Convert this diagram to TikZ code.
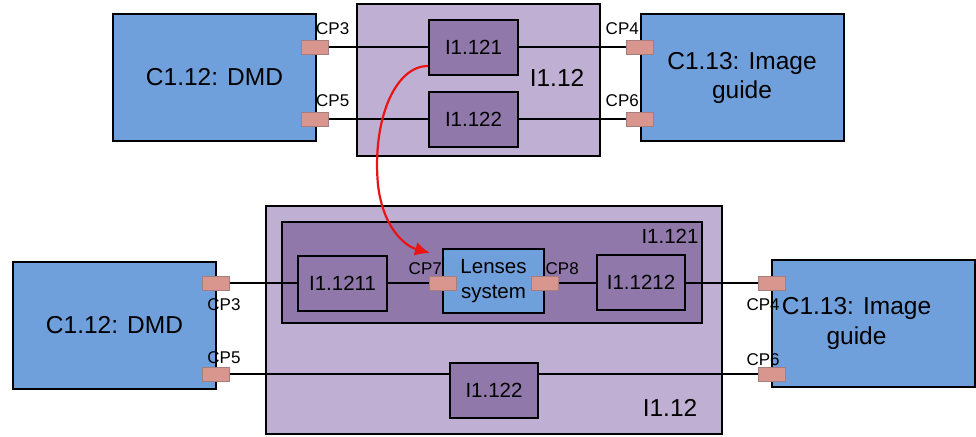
\documentclass[tikz,border=0pt]{standalone}
\usepackage{fontspec}
\setmainfont{Liberation Sans}
\usetikzlibrary{arrows.meta,positioning}
\definecolor{compblue}{RGB}{112,160,220}
\definecolor{outerpurple}{RGB}{191,176,211}
\definecolor{innerpurple}{RGB}{144,121,170}
\definecolor{portred}{RGB}{216,150,143}
\definecolor{portedge}{RGB}{165,125,125}
\definecolor{flowred}{RGB}{235,20,20}
\pgfdeclarelayer{back}
\pgfdeclarelayer{wires}
\pgfsetlayers{back,wires,main}

\begin{document}
\begin{tikzpicture}[
    x=1pt, y=-1pt,
    box/.style={rectangle, draw, line width=2pt, inner sep=0pt, align=center},
    comp/.style={box, fill=compblue, minimum width=203pt, minimum height=127pt, font=\fontsize{24.5}{29}\selectfont},
    outer/.style={box, fill=outerpurple},
    inner/.style={box, fill=innerpurple, font=\fontsize{20.5}{24}\selectfont},
    port/.style={rectangle, draw=portedge, line width=0.6pt, fill=portred, minimum width=27pt, minimum height=14pt, inner sep=0pt},
    cplabel/.style={font=\fontsize{17}{20}\selectfont, inner sep=1pt},
    wire/.style={line width=2pt},
    flow/.style={line width=2.2pt, draw=flowred, -{Latex[length=15pt,width=14pt]}}
]
    \useasboundingbox (0,0) rectangle (976,436);

    % top: I1.12 between DMD and image guide
    \begin{pgfonlayer}{back}
        \node[comp] (dmdA) at (214.5,77.5) {C1.12: DMD};
        \node[outer, minimum width=243pt, minimum height=152pt] (ifA) at (478.5,80) {};
        \node[comp] (guideA) at (742,77.5) {C1.13: Image\\guide};
    \end{pgfonlayer}
    \node[font=\fontsize{24.5}{29}\selectfont] (lblA) at (557,78) {I1.12};
    \node[inner, minimum width=89pt, minimum height=55pt] (i121A) at (473.5,47.5) {I1.121};
    \node[inner, minimum width=89pt, minimum height=55pt, below=15pt of i121A] (i122A) {I1.122};

    \node[port, label={[cplabel, anchor=south west, yshift=4pt]north:CP3}] (cp3A) at (315,47.5) {};
    \node[port, label={[cplabel, anchor=south west, yshift=4pt]north:CP5}] (cp5A) at (315,119) {};
    \node[port, label={[cplabel, anchor=south east, yshift=4pt]north:CP4}] (cp4A) at (640,47.5) {};
    \node[port, label={[cplabel, anchor=south east, yshift=4pt]north:CP6}] (cp6A) at (640,119) {};

    \begin{pgfonlayer}{wires}
        \draw[wire] (cp3A) -- (i121A) -- (cp4A);
        \draw[wire] (cp5A) -- (cp6A);
    \end{pgfonlayer}

    % bottom: I1.121 opened up
    \begin{pgfonlayer}{back}
        \node[comp] (dmdB) at (114.5,325.5) {C1.12: DMD};
        \node[outer, minimum width=456pt, minimum height=228pt] (ifB) at (494,320) {};
        \node[box, fill=innerpurple, minimum width=420pt, minimum height=101pt] (i121B) at (492,272.5) {};
        \node[comp, label={[font=\fontsize{24.5}{30}\selectfont, align=center, xshift=-17pt]center:{C1.13: Image\\guide}}] (guideB) at (873.5,323.5) {};
    \end{pgfonlayer}
    \node[font=\fontsize{20.5}{24}\selectfont] (lbl121) at (670,236) {I1.121};
    \node[font=\fontsize{24.5}{29}\selectfont] (lblB) at (670,408) {I1.12};

    \node[inner, minimum width=89pt, minimum height=55pt] (i1211) at (342.5,283) {I1.1211};
    \node[box, fill=compblue, minimum width=101pt, minimum height=64pt, font=\fontsize{20.5}{25}\selectfont] (lens) at (493.5,281) {Lenses\\system};
    \node[inner, minimum width=88pt, minimum height=55pt] (i1212) at (641,282) {I1.1212};
    \node[inner, minimum width=88pt, minimum height=55pt] (i122B) at (494,390.5) {I1.122};

    \node[port, label={[cplabel, anchor=north west, xshift=4pt, yshift=-7pt]south west:CP3}] (cp3B) at (216,283) {};
    \node[port, label={[cplabel, anchor=south west, xshift=4pt, yshift=2pt]north west:CP5}] (cp5B) at (216,374) {};
    \node[port, label={[cplabel, anchor=south east]north:CP7}] (cp7B) at (443,283) {};
    \node[port, label={[cplabel, anchor=south west]north:CP8}] (cp8B) at (544.5,283) {};
    \node[port, label={[cplabel, anchor=north east, xshift=-5pt, yshift=-7pt]south east:CP4}] (cp4B) at (772,283) {};
    \node[port, label={[cplabel, anchor=south east, xshift=-5pt]north east:CP6}] (cp6B) at (772,374) {};

    \begin{pgfonlayer}{wires}
        \draw[wire] (cp3B) -- (i1211) -- (cp7B);
        \draw[wire] (cp8B) -- (cp4B);
        \draw[wire] (cp5B) -- (cp6B);
    \end{pgfonlayer}

    % refinement of I1.121
    \coordinate (bend) at (378,185);
    \coordinate (lensin) at (430,253);
    \draw[flow] ([yshift=10pt]i121A.south west) .. controls (395,66) and (372,120) .. (bend)
        .. controls (383,228) and (405,246) .. (lensin);
\end{tikzpicture}
\end{document}
